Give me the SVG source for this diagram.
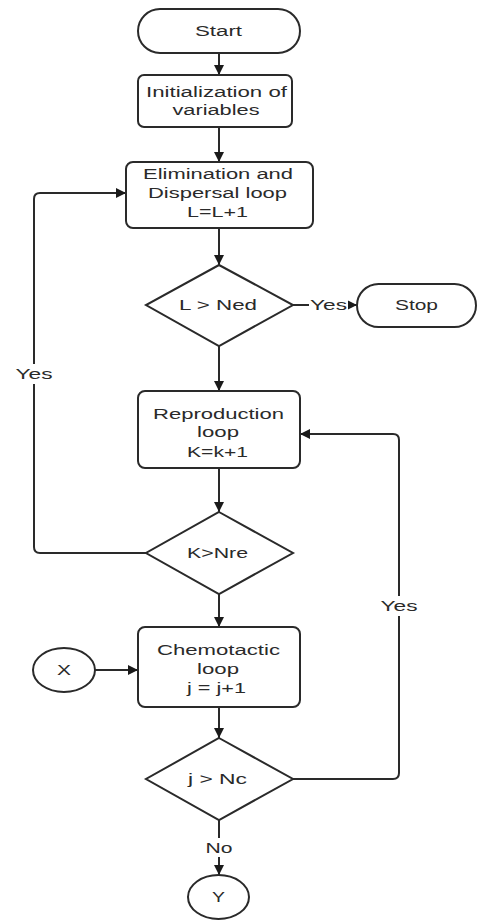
<svg xmlns="http://www.w3.org/2000/svg" width="478" height="920" viewBox="0 0 478 920">
<style>
.s{fill:#fff;stroke:#2a2a2a;stroke-width:2}
.t{font-family:"Liberation Sans",Arial,sans-serif;font-size:15.5px;fill:#2a2a2a;text-anchor:middle}
.c{fill:none;stroke:#2a2a2a;stroke-width:2}
.lb{fill:#fff;stroke:none}
</style>
<defs>
<marker id="a" viewBox="0 0 10 10" refX="10" refY="5" markerWidth="10" markerHeight="10" markerUnits="userSpaceOnUse" orient="auto">
<path d="M0,0 L10,5 L0,10 z" fill="#1a1a1a"/>
</marker>
</defs>
<rect width="478" height="920" fill="#fff"/>
<g id="connectors">
<line class="c" x1="219" y1="53" x2="219" y2="75" marker-end="url(#a)"/>
<line class="c" x1="219" y1="127" x2="219" y2="162" marker-end="url(#a)"/>
<line class="c" x1="219" y1="228" x2="219" y2="265" marker-end="url(#a)"/>
<line class="c" x1="293" y1="305" x2="357" y2="305" marker-end="url(#a)"/>
<rect class="lb" x="309" y="296" width="39" height="18"/>
<text class="t" x="328.5" y="310" textLength="37" lengthAdjust="spacingAndGlyphs">Yes</text>
<line class="c" x1="219" y1="346" x2="219" y2="391" marker-end="url(#a)"/>
<line class="c" x1="219" y1="468" x2="219" y2="512" marker-end="url(#a)"/>
<path class="c" d="M146,553 H40 Q34,553 34,547 V199 Q34,193 40,193 H126" marker-end="url(#a)"/>
<rect class="lb" x="14" y="364" width="40" height="20"/>
<text class="t" x="34" y="379" textLength="37" lengthAdjust="spacingAndGlyphs">Yes</text>
<line class="c" x1="219" y1="594" x2="219" y2="627" marker-end="url(#a)"/>
<line class="c" x1="95" y1="670" x2="138" y2="670" marker-end="url(#a)"/>
<line class="c" x1="219" y1="707" x2="219" y2="738" marker-end="url(#a)"/>
<path class="c" d="M293,779 H393 Q399,779 399,773 V440 Q399,434 393,434 H300" marker-end="url(#a)"/>
<rect class="lb" x="379" y="596" width="40" height="20"/>
<text class="t" x="399" y="611" textLength="37" lengthAdjust="spacingAndGlyphs">Yes</text>
<line class="c" x1="219" y1="820" x2="219" y2="875" marker-end="url(#a)"/>
<rect class="lb" x="203" y="838" width="32" height="19"/>
<text class="t" x="219" y="853" textLength="27" lengthAdjust="spacingAndGlyphs">No</text>
</g>
<g id="start">
<rect class="s" x="138" y="9" width="162" height="44" rx="22"/>
<text class="t" x="218.5" y="36" textLength="47" lengthAdjust="spacingAndGlyphs">Start</text>
</g>
<g id="init">
<rect class="s" x="138" y="75" width="154" height="52" rx="6"/>
<text class="t" x="216.5" y="97" textLength="141" lengthAdjust="spacingAndGlyphs">Initialization of</text>
<text class="t" x="216" y="115" textLength="87" lengthAdjust="spacingAndGlyphs">variables</text>
</g>
<g id="elim">
<rect class="s" x="126" y="162" width="187" height="66" rx="7"/>
<text class="t" x="218" y="179" textLength="150" lengthAdjust="spacingAndGlyphs">Elimination and</text>
<text class="t" x="217.5" y="198" textLength="139" lengthAdjust="spacingAndGlyphs">Dispersal loop</text>
<text class="t" x="217.5" y="217" textLength="61" lengthAdjust="spacingAndGlyphs">L=L+1</text>
</g>
<g id="dec-ned">
<polygon class="s" points="219,265 293,305 219,346 146,305"/>
<text class="t" x="218" y="310" textLength="78" lengthAdjust="spacingAndGlyphs">L &gt; Ned</text>
</g>
<g id="stop">
<rect class="s" x="357" y="284" width="119" height="43" rx="21.5"/>
<text class="t" x="416.5" y="310" textLength="43" lengthAdjust="spacingAndGlyphs">Stop</text>
</g>
<g id="repro">
<rect class="s" x="138" y="391" width="162" height="77" rx="7"/>
<text class="t" x="218.5" y="419" textLength="131" lengthAdjust="spacingAndGlyphs">Reproduction</text>
<text class="t" x="218" y="437" textLength="42" lengthAdjust="spacingAndGlyphs">loop</text>
<text class="t" x="217.5" y="457" textLength="61" lengthAdjust="spacingAndGlyphs">K=k+1</text>
</g>
<g id="dec-nre">
<polygon class="s" points="219,512 293,553 219,594 146,553"/>
<text class="t" x="217.5" y="558" textLength="61" lengthAdjust="spacingAndGlyphs">K&gt;Nre</text>
</g>
<g id="chemo">
<rect class="s" x="138" y="627" width="162" height="80" rx="7"/>
<text class="t" x="218.5" y="655" textLength="123" lengthAdjust="spacingAndGlyphs">Chemotactic</text>
<text class="t" x="218" y="674" textLength="42" lengthAdjust="spacingAndGlyphs">loop</text>
<text class="t" x="216.5" y="693" textLength="59" lengthAdjust="spacingAndGlyphs">j = j+1</text>
</g>
<g id="x">
<ellipse class="s" cx="64" cy="670" rx="31" ry="22"/>
<text class="t" x="64" y="675" textLength="14" lengthAdjust="spacingAndGlyphs">X</text>
</g>
<g id="dec-nc">
<polygon class="s" points="219,738 293,779 219,820 146,779"/>
<text class="t" x="217.5" y="784" textLength="59" lengthAdjust="spacingAndGlyphs">j &gt; Nc</text>
</g>
<g id="y">
<ellipse class="s" cx="218.5" cy="897" rx="30.5" ry="22"/>
<text class="t" x="218.5" y="902" textLength="13" lengthAdjust="spacingAndGlyphs">Y</text>
</g>
</svg>
